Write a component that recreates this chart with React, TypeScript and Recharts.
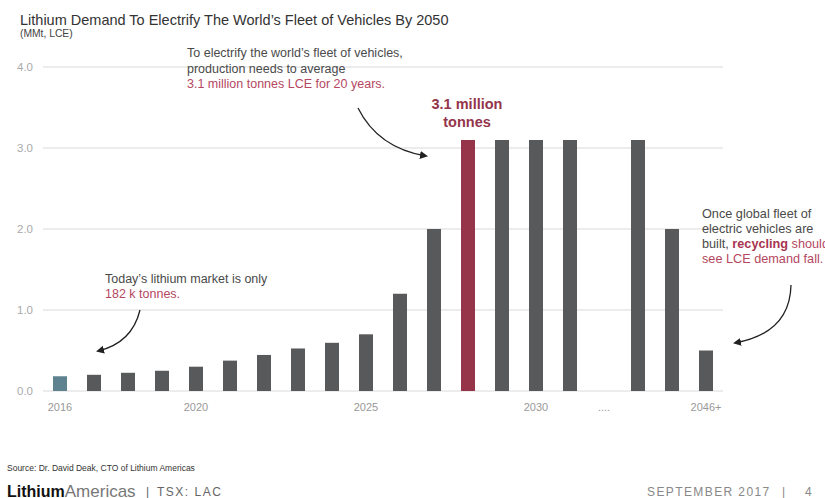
import React from 'react';
import { BarChart, Bar, XAxis, YAxis, CartesianGrid, Cell } from 'recharts';

const categories = [
  '2016', '2017', '2018', '2019', '2020', '2021', '2022', '2023', '2024', '2025',
  '2026', '2027', '2028', '2029', '2030', '2031', '....', '2044', '2045', '2046+',
];
const demand: (number | null)[] = [
  0.182, 0.2, 0.225, 0.25, 0.3, 0.375, 0.445, 0.525, 0.595, 0.7,
  1.2, 2.0, 3.1, 3.1, 3.1, 3.1, null, 3.1, 2.0, 0.5,
];
const xTickLabels = ['2016', '2020', '2025', '2030', '....', '2046+'];
const yTicks = [0, 1, 2, 3, 4];
const todayCategory = '2016';
const highlightCategory = '2028';

const data = categories.map((c, i) => ({ category: c, demand: demand[i] }));

const FONT = '"Liberation Sans", Arial, Helvetica, sans-serif';
const GRAY_TEXT = '#4a4a4a';
const RED_TEXT = '#b5475f';
const DARK_RED = '#93354b';

function barColor(cat: string) {
  if (cat === todayCategory) return '#5f8290';
  if (cat === highlightCategory) return '#96344a';
  return '#58595b';
}

export default function App() {
  return (
    <div
      style={{
        position: 'absolute',
        left: 0,
        top: 0,
        width: 825,
        height: 498,
        background: '#fff',
        overflow: 'hidden',
        fontFamily: FONT,
      }}
    >
      <BarChart
        width={825}
        height={498}
        data={data}
        margin={{ top: 67, right: 102, left: 0, bottom: 77 }}
        barSize={14}
      >
        <CartesianGrid horizontal vertical={false} stroke="#e6e6e6" strokeWidth={1.5} />
        <XAxis
          dataKey="category"
          interval={0}
          height={30}
          axisLine={false}
          tickLine={false}
          tickSize={0}
          tickMargin={12}
          tick={{ fill: '#999', fontSize: 11, fontFamily: FONT }}
          tickFormatter={(v: string) => (xTickLabels.includes(v) ? v : '')}
        />
        <YAxis
          width={43}
          domain={[0, 4]}
          ticks={yTicks}
          axisLine={false}
          tickLine={false}
          tickSize={0}
          tickMargin={10}
          tick={{ fill: '#aaa', fontSize: 11.5, fontFamily: FONT }}
          tickFormatter={(v: number) => v.toFixed(1)}
        />
        <Bar dataKey="demand" isAnimationActive={false}>
          {data.map((d) => (
            <Cell key={d.category} fill={barColor(d.category)} />
          ))}
        </Bar>
      </BarChart>

      <svg
        width={825}
        height={498}
        style={{ position: 'absolute', left: 0, top: 0, pointerEvents: 'none' }}
        fontFamily={FONT}
      >
        <defs>
          <marker id="ah" markerWidth="8" markerHeight="8" refX="6" refY="4" orient="auto" markerUnits="userSpaceOnUse">
            <path d="M0,0 L8,4 L0,8 Z" fill="#222" />
          </marker>
        </defs>

        {/* Title */}
        <text x={20} y={24.5} fontSize={14.5} fill="#333">
          Lithium Demand To Electrify The World’s Fleet of Vehicles By 2050
        </text>
        <text x={20} y={37} fontSize={10.3} fill="#444">(MMt, LCE)</text>

        {/* Top annotation */}
        <text x={187} y={57} fontSize={12.5} fill={GRAY_TEXT}>To electrify the world’s fleet of vehicles,</text>
        <text x={187} y={72.5} fontSize={12.5} fill={GRAY_TEXT}>production needs to average</text>
        <text x={187} y={87.5} fontSize={12.5} fill={RED_TEXT}>3.1 million tonnes LCE for 20 years.</text>

        <text x={467} y={109} fontSize={14.5} fontWeight="bold" fill={DARK_RED} textAnchor="middle">3.1 million</text>
        <text x={467} y={127} fontSize={14.5} fontWeight="bold" fill={DARK_RED} textAnchor="middle">tonnes</text>

        <path d="M358,108 Q378,148 426,156" fill="none" stroke="#222" strokeWidth={1.3} markerEnd="url(#ah)" />

        {/* Left annotation */}
        <text x={105} y={283} fontSize={12.5} fill={GRAY_TEXT}>Today’s lithium market is only</text>
        <text x={105} y={298} fontSize={12.5} fill={RED_TEXT}>182 k tonnes.</text>
        <path d="M140,310 Q132,343 98,351" fill="none" stroke="#222" strokeWidth={1.3} markerEnd="url(#ah)" />

        {/* Right annotation */}
        <text x={702} y={217.5} fontSize={12.7} fill={GRAY_TEXT}>Once global fleet of</text>
        <text x={702} y={232.5} fontSize={12.7} fill={GRAY_TEXT}>electric vehicles are</text>
        <text x={702} y={247.5} fontSize={12.7} fill={GRAY_TEXT}>
          built, <tspan fill="#a83350" fontWeight="bold">recycling</tspan>
          <tspan fill={RED_TEXT}> should</tspan>
        </text>
        <text x={702} y={262.5} fontSize={12.7} fill={RED_TEXT}>see LCE demand fall.</text>
        <path d="M791,285 Q790,333 735,343" fill="none" stroke="#222" strokeWidth={1.3} markerEnd="url(#ah)" />

        {/* Footer */}
        <text x={7} y={471} fontSize={8.5} fill="#333">Source: Dr. David Deak, CTO of Lithium Americas</text>
        <text x={7} y={496.5} fontSize={16} fill="#111">
          <tspan fontWeight="bold">Lithium</tspan>
          <tspan fontSize={17} fill="#777">Americas</tspan>
        </text>
        <text x={146} y={496} fontSize={12} fill="#666">|</text>
        <text x={157} y={496} fontSize={12} fill="#666" letterSpacing={1.5}>TSX: LAC</text>
        <text x={647} y={496} fontSize={12} fill="#888" letterSpacing={1.4}>SEPTEMBER 2017</text>
        <text x={782} y={496} fontSize={12} fill="#888">|</text>
        <text x={805} y={496} fontSize={12} fill="#888">4</text>
      </svg>
    </div>
  );
}
